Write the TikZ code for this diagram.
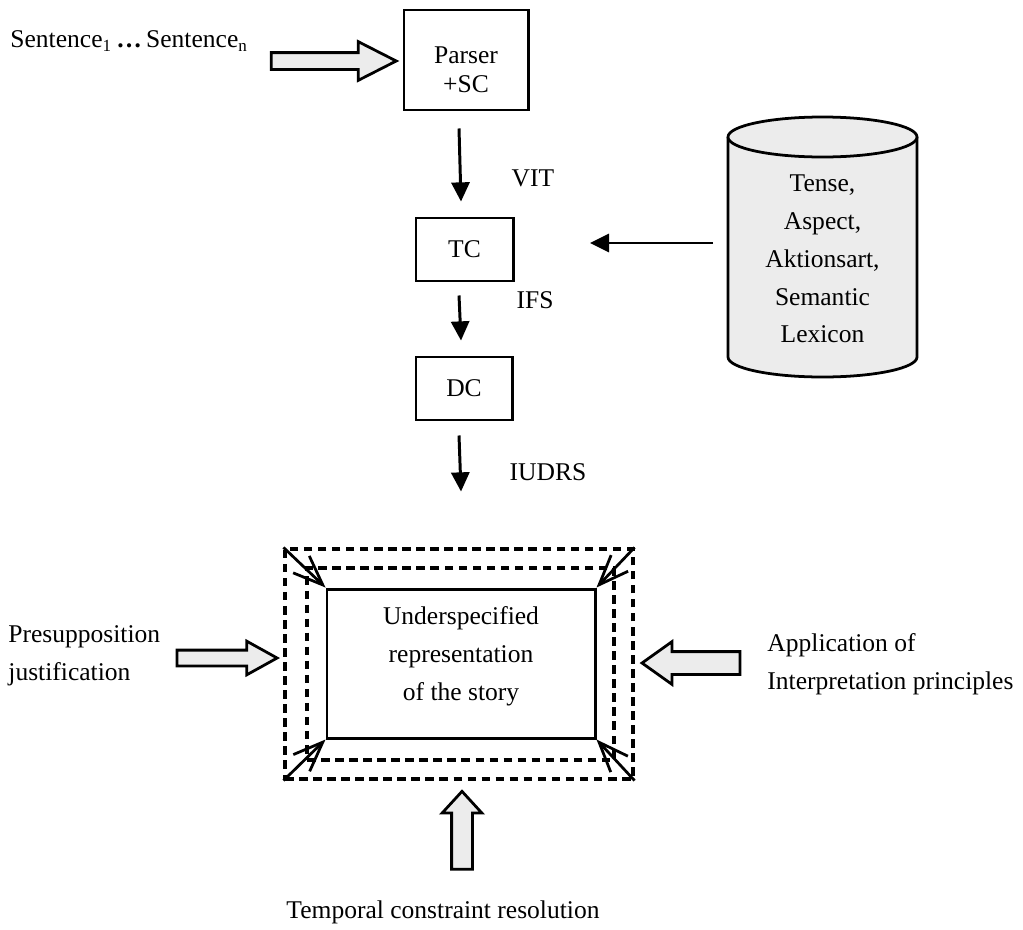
\documentclass[tikz,border=0pt]{standalone}
\usepackage{fontspec}
\setmainfont{Liberation Serif}
\usetikzlibrary{arrows.meta, shapes.arrows, calc}
\newcommand{\pxu}{0.47pt}

\begin{document}
\begin{tikzpicture}[x=\pxu, y=-\pxu,
  every node/.style={font=\fontsize{12}{17.8}\selectfont, inner sep=0pt},
  procbox/.style={rectangle, draw, line width=1.4pt, align=center},
  dashbox/.style={rectangle, draw, dash pattern=on 4pt off 2.6pt, line width=1.5pt},
  flow/.style={-{Triangle[length=9pt, width=8.5pt]}, line width=1.4pt},
  cornerarrow/.style={-{Straight Barb[length=14pt, width=11pt]}, line width=1.3pt},
  hollow/.style={single arrow, draw, fill=gray!15, line width=1.3pt, inner xsep=0pt},
]
  \useasboundingbox (0,0) rectangle (1023,929);

  % input sentences
  \node[anchor=west] (sentences) at (10,41)
        {Sentence\textsubscript{1}\,\textbf{\ldots}\,Sentence\textsubscript{n}};
  \node[hollow, minimum height=125*\pxu, inner ysep=7*\pxu,
        single arrow head extend=11*\pxu, single arrow tip angle=54] (inarrow) at (325.5,61) {};

  % pipeline
  \node[procbox, minimum width=124*\pxu, minimum height=100*\pxu] (parser) at (466,60) {};
  \node[align=center, font=\fontsize{12}{13.5}\selectfont] (parserlabel) at (466,70) {Parser\\+SC};
  \node[procbox, minimum width=97*\pxu, minimum height=63*\pxu] (tc) at (464.5,249.5) {TC};
  \node[procbox, minimum width=96*\pxu, minimum height=63*\pxu] (dc) at (464,388.5) {DC};

  \draw[flow] ($(parser.south)+(-7,17)$) -- ($(tc.north)+(-3.5,-15)$);
  \draw[flow] ($(tc.south)+(-5.5,13)$) -- ($(dc.north)+(-3,-15)$);
  \draw[flow] ($(dc.south)+(-5,14)$) -- ($(dc.south)+(-3,70)$);

  \node (vit) at (533,178) {VIT};
  \node (ifs) at (535,300) {IFS};
  \node (iudrs) at (548,472) {IUDRS};

  % lexicon
  \fill[gray!15] (728,137) -- (728,357)
        arc[start angle=180, end angle=0, x radius=94.5, y radius=20] -- (917,137) -- cycle;
  \draw[line width=1.3pt] (728,137) -- (728,357)
        arc[start angle=180, end angle=0, x radius=94.5, y radius=20] -- (917,137);
  \filldraw[fill=gray!15, line width=1.3pt] (822.5,137) ellipse[x radius=94.5, y radius=20];
  \node[align=center] (lexicon) at (822.5,259) {Tense,\\Aspect,\\Aktionsart,\\Semantic\\Lexicon};

  \coordinate (lexout) at (713,243);
  \coordinate (tcin) at (590,243);
  \draw[flow] (lexout) -- (tcin);

  % story representation
  \node[dashbox, minimum width=348*\pxu, minimum height=230*\pxu] (outer) at (459,664) {};
  \node[dashbox, minimum width=307*\pxu, minimum height=192*\pxu] (inner) at (460.5,664) {};
  \node[procbox, fill=white, minimum width=268*\pxu, minimum height=149*\pxu] (story) at (461,663.5) {};
  \node[align=center] (storylabel) at (461,656) {Underspecified\\representation\\of the story};

  \draw[cornerarrow] (outer.north west) -- (story.north west);
  \draw[cornerarrow] (outer.north east) -- (story.north east);
  \draw[cornerarrow] (outer.south west) -- (story.south west);
  \draw[cornerarrow] (outer.south east) -- (story.south east);

  % side inputs
  \node[anchor=west, align=left] (presup) at (8,656) {Presupposition\\justification};
  \node[hollow, minimum height=100*\pxu, inner ysep=6.5*\pxu,
        single arrow head extend=9*\pxu, single arrow tip angle=58] (presuparrow) at (220,658) {};

  \node[hollow, rotate=180, minimum height=98*\pxu, inner ysep=10*\pxu,
        single arrow head extend=10*\pxu, single arrow tip angle=71] (apparrow) at (699,663) {};
  \node[anchor=west, align=left] (app) at (767,664) {Application of\\Interpretation principles};

  \node[hollow, rotate=90, minimum height=78*\pxu, inner ysep=9*\pxu,
        single arrow head extend=9.5*\pxu, single arrow tip angle=85] (temparrow) at (462,836) {};
  \node (temporal) at (443,912) {Temporal constraint resolution};
\end{tikzpicture}
\end{document}
